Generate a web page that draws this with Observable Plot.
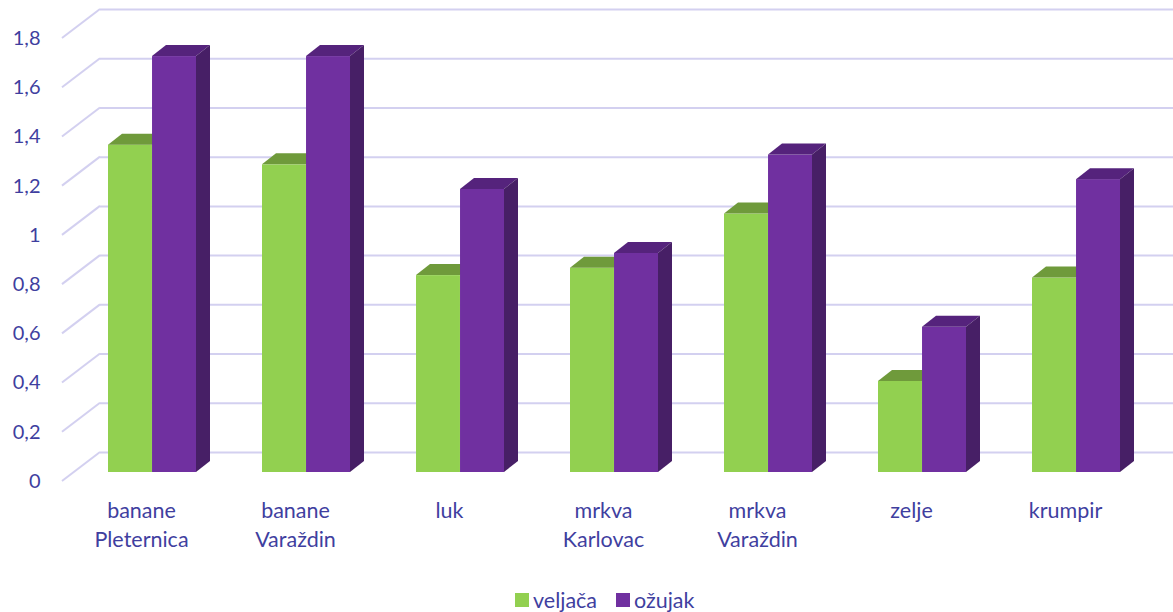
<!DOCTYPE html>
<html><head><meta charset="utf-8">
<script src="https://cdn.jsdelivr.net/npm/d3@7"></script>
<script src="https://cdn.jsdelivr.net/npm/@observablehq/plot@0.6"></script>
<style>
body{margin:0;background:#fff;font-family:Lato,"Open Sans",sans-serif;}
#legend{display:flex;align-items:center;margin-left:515px;margin-top:6px;height:24px;color:#3f3f9f;font-size:21.5px;}
.item{display:flex;align-items:center;margin-right:19px}
.sw{width:14px;height:14px;margin-right:4px;display:inline-block}
</style></head><body>
<div id="chart"></div>
<div id="legend"></div>
<script>
// ---- data ----
const categories = ["banane Pleternica","banane Varaždin","luk","mrkva Karlovac","mrkva Varaždin","zelje","krumpir"];
const seriesNames = ["veljača","ožujak"];
const veljaca = [1.33,1.25,0.80,0.83,1.05,0.37,0.79];
const ozujak  = [1.69,1.69,1.15,0.89,1.29,0.59,1.19];
const yTicks = [0,0.2,0.4,0.6,0.8,1,1.2,1.4,1.6,1.8];

// ---- style ----
const W = 1173, H = 582, ML = 62, MR = 29.5, MT = 38, MB = 101;
const textColor = "#3f3f9f";
const gridColor = "#d3d0f0";
const faces = [
  {front:"#92d050", top:"#6f9a3b", side:"#5e8a30"},
  {front:"#7030a0", top:"#55237c", side:"#471f66"}
];
const WALL = {dx:38, dy:-29};   // back wall offset
const BAR = {dx:11, dy:-9};     // bar front plane offset
const DEPTH = {dx:14, dy:-11};  // bar depth

const seriesValues = [veljaca, ozujak];
const data = [];
seriesNames.forEach((s,k)=>categories.forEach((c,i)=>data.push({cat:c, series:s, k, value:seriesValues[k][i]})));

const xPad = {paddingInner:0.43, paddingOuter:0.215};
const bw = Plot.scale({x:{type:"band", domain:categories, range:[ML, W-MR], ...xPad}}).bandwidth;
const half = bw/2;

function sideWall(index, {y}, values, dims) {
  const g = d3.create("svg:g").attr("stroke", gridColor).attr("stroke-width", 2);
  for (const t of yTicks) {
    g.append("line").attr("x1", dims.marginLeft).attr("y1", y(t))
      .attr("x2", dims.marginLeft + WALL.dx).attr("y2", y(t) + WALL.dy);
  }
  return g.node();
}

function extrude(k) {
  return (index, {x, y}) => {
    const g = d3.create("svg:g");
    const b = typeof x.bandwidth === "function" ? x.bandwidth() : x.bandwidth;
    const h = b/2;
    categories.forEach((c,i) => {
      const x0 = x(c) + k*h + BAR.dx, x1 = x0 + h;
      const yt = y(seriesValues[k][i]) + BAR.dy, yb = y(0) + BAR.dy;
      const top = [[x0,yt],[x1,yt],[x1+DEPTH.dx,yt+DEPTH.dy],[x0+DEPTH.dx,yt+DEPTH.dy]];
      g.append("path").attr("d", "M" + top.join("L") + "Z").attr("fill", faces[k].top);
      if (k === seriesNames.length - 1) {
        const side = [[x1,yt],[x1+DEPTH.dx,yt+DEPTH.dy],[x1+DEPTH.dx,yb+DEPTH.dy],[x1,yb]];
        g.append("path").attr("d", "M" + side.join("L") + "Z").attr("fill", faces[k].side);
      }
    });
    return g.node();
  };
}

const fmt = d => String(d).replace(".", ",");

const plot = Plot.plot({
  width: W, height: H,
  marginLeft: ML, marginRight: MR, marginTop: MT, marginBottom: MB,
  style: {fontFamily: "Lato, 'Open Sans', sans-serif", fontSize: "20px", color: textColor, background: "#fff"},
  x: {domain: categories, ...xPad},
  y: {domain: [0, 1.8]},
  marks: [
    Plot.ruleY(yTicks, {dx: WALL.dx, dy: WALL.dy, stroke: gridColor, strokeWidth: 2}),
    sideWall,
    Plot.barY(data.filter(d => d.k === 0), {x: "cat", y: "value", fill: faces[0].front, dx: BAR.dx, dy: BAR.dy, insetLeft: 0, insetRight: half}),
    extrude(0),
    Plot.barY(data.filter(d => d.k === 1), {x: "cat", y: "value", fill: faces[1].front, dx: BAR.dx, dy: BAR.dy, insetLeft: half, insetRight: 0}),
    extrude(1),
    Plot.axisY({ticks: yTicks, tickFormat: fmt, tickSize: 0, tickPadding: 22, fontSize: 20, fill: textColor, label: null}),
    Plot.axisX({tickSize: 0, tickPadding: 15, tickFormat: d => d.replace(" ", "\n"), lineHeight: 1.38, fontSize: 21.5, fill: textColor, label: null})
  ]
});
document.getElementById("chart").appendChild(plot);

const legend = document.getElementById("legend");
seriesNames.forEach((s,k) => {
  const it = document.createElement("div"); it.className = "item";
  const sw = document.createElement("span"); sw.className = "sw"; sw.style.background = faces[k].front;
  it.appendChild(sw); it.appendChild(document.createTextNode(s));
  legend.appendChild(it);
});
</script>
</body></html>
